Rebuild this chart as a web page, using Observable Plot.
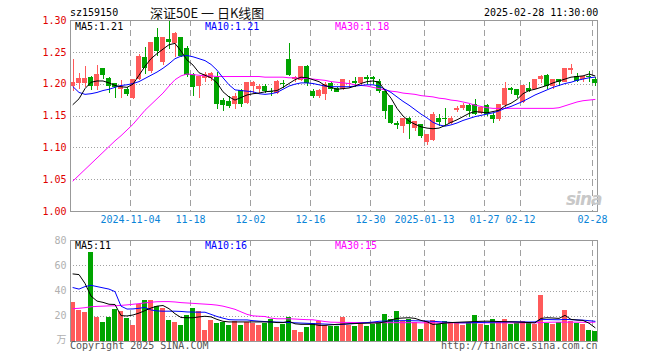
<!DOCTYPE html>
<html>
<head>
<meta charset="utf-8">
<script src="https://cdn.jsdelivr.net/npm/d3@7"></script>
<script src="https://cdn.jsdelivr.net/npm/@observablehq/plot@0.6"></script>
<style>
  html, body { margin: 0; padding: 0; background: #fff; }
  #wrap { position: relative; width: 660px; height: 360px; overflow: hidden; background: #fff; }
  #wrap svg { position: absolute; left: 0; background: transparent; }
  #wrap svg rect, #wrap svg line { shape-rendering: crispEdges; }
  .t { position: absolute; white-space: pre; font-family: "DejaVu Sans Mono", "Liberation Mono", monospace; font-size: 10px; line-height: 12px; }
</style>
</head>
<body>
<div id="wrap"></div>
<script>
// ---------- data ----------
const tickIdx = [10, 20, 30, 40, 50, 59, 69, 75, 87];
const tickLabels = ["2024-11-04", "11-18", "12-02", "12-16", "12-30", "2025-01-13", "01-27", "02-12", "02-28"];
const priceTicks = [1.00, 1.05, 1.10, 1.15, 1.20, 1.25, 1.30];
const volTicks = [20, 40, 60, 80];

const open = [1.197,1.201,1.201,1.210,1.197,1.224,1.208,1.200,1.192,1.191,
1.178,1.208,1.241,1.220,1.272,1.234,1.269,1.264,1.272,1.256,
1.214,1.196,1.209,1.209,1.210,1.174,1.172,1.168,1.190,1.170,
1.196,1.192,1.196,1.188,1.186,1.201,1.238,1.207,1.206,1.227,
1.188,1.181,1.183,1.200,1.192,1.192,1.199,1.203,1.201,1.209,
1.210,1.204,1.188,1.166,1.137,1.133,1.145,1.131,1.136,1.108,
1.112,1.145,1.146,1.138,1.159,1.162,1.165,1.167,1.154,1.165,
1.150,1.144,1.167,1.192,1.191,1.171,1.192,1.192,1.207,1.213,
1.197,1.207,1.202,1.222,1.211,1.207,1.212,1.206];
const high = [1.238,1.217,1.228,1.212,1.230,1.225,1.210,1.201,1.206,1.195,
1.207,1.246,1.257,1.266,1.288,1.272,1.298,1.281,1.274,1.259,
1.217,1.212,1.218,1.218,1.218,1.178,1.180,1.185,1.192,1.203,
1.204,1.200,1.199,1.193,1.206,1.206,1.264,1.212,1.228,1.229,
1.192,1.191,1.203,1.202,1.195,1.208,1.206,1.210,1.209,1.213,
1.212,1.207,1.190,1.166,1.141,1.145,1.147,1.142,1.136,1.120,
1.156,1.152,1.162,1.150,1.165,1.170,1.168,1.176,1.164,1.168,
1.154,1.167,1.202,1.194,1.191,1.197,1.202,1.207,1.213,1.215,
1.207,1.207,1.224,1.231,1.216,1.211,1.220,1.210];
const low = [1.188,1.192,1.194,1.190,1.190,1.208,1.186,1.178,1.178,1.181,
1.176,1.206,1.215,1.216,1.243,1.230,1.255,1.242,1.242,1.211,
1.180,1.177,1.203,1.204,1.160,1.157,1.162,1.160,1.163,1.168,
1.185,1.186,1.185,1.180,1.183,1.193,1.212,1.202,1.204,1.197,
1.177,1.178,1.175,1.188,1.187,1.190,1.193,1.195,1.198,1.200,
1.200,1.186,1.144,1.136,1.129,1.122,1.113,1.126,1.115,1.104,
1.110,1.134,1.135,1.136,1.155,1.159,1.148,1.151,1.153,1.149,
1.139,1.141,1.162,1.183,1.177,1.170,1.187,1.191,1.201,1.191,
1.191,1.197,1.202,1.215,1.202,1.202,1.203,1.197];
const close = [1.202,1.208,1.208,1.196,1.214,1.213,1.196,1.194,1.196,1.184,
1.206,1.243,1.225,1.265,1.251,1.272,1.266,1.278,1.244,1.213,
1.195,1.211,1.215,1.216,1.168,1.167,1.165,1.180,1.168,1.202,
1.202,1.196,1.189,1.187,1.204,1.199,1.214,1.209,1.227,1.201,
1.180,1.189,1.198,1.191,1.187,1.206,1.201,1.201,1.209,1.207,
1.208,1.188,1.157,1.138,1.135,1.145,1.136,1.141,1.118,1.120,
1.152,1.140,1.144,1.146,1.161,1.165,1.157,1.153,1.162,1.152,
1.144,1.167,1.192,1.190,1.182,1.197,1.188,1.207,1.211,1.197,
1.206,1.203,1.224,1.224,1.204,1.211,1.211,1.201];
const volume = [30.8,24.2,22.6,70.7,19.4,15.4,19.4,25,23.4,18.3,
13,29,32.1,32.1,27.4,25.8,17,15.4,13,20.2,
25.8,23.4,9,17,14.6,15.4,13,16.2,13,15.4,
14.6,13,14.6,17.8,11.4,13.8,19.4,9,7.4,11.4,
14.6,16.2,13,12,12.2,19.4,13,12.2,13.8,12.2,
13.8,14.6,21,17.8,23.4,16.2,17.8,15.4,9.8,16.2,
17,13.8,16.2,15.4,14.6,13,15.4,20.2,13.8,13,
17.8,16.2,17.8,13.8,14.6,16.2,15.4,13.8,36.1,14.6,
13.8,15.4,24.2,16.2,14.6,13.8,9,8.2];
const ma5 = [1.168,1.177,1.193,1.203,1.205,1.205,1.202,1.198,1.196,1.195,
1.200,1.214,1.228,1.240,1.248,1.255,1.262,1.264,1.252,1.238,
1.230,1.218,1.214,1.210,1.202,1.188,1.180,1.175,1.179,1.183,
1.185,1.186,1.188,1.189,1.190,1.195,1.201,1.207,1.211,1.210,
1.207,1.204,1.198,1.195,1.192,1.193,1.194,1.197,1.201,1.204,
1.205,1.203,1.190,1.178,1.162,1.150,1.142,1.137,1.133,1.131,
1.130,1.131,1.135,1.140,1.144,1.149,1.154,1.157,1.156,1.155,
1.157,1.159,1.166,1.170,1.176,1.185,1.190,1.192,1.195,1.198,
1.202,1.205,1.208,1.211,1.212,1.213,1.216,1.213];
const ma10 = [1.196,1.187,1.184,1.185,1.187,1.190,1.192,1.195,1.198,1.199,
1.201,1.204,1.209,1.214,1.219,1.225,1.232,1.240,1.244,1.245,
1.243,1.240,1.237,1.231,1.222,1.210,1.199,1.191,1.190,1.189,
1.188,1.185,1.184,1.185,1.187,1.192,1.197,1.200,1.202,1.202,
1.201,1.199,1.197,1.196,1.196,1.196,1.196,1.197,1.198,1.199,
1.199,1.197,1.192,1.187,1.180,1.173,1.167,1.160,1.153,1.147,
1.140,1.136,1.134,1.136,1.139,1.143,1.146,1.149,1.151,1.153,
1.155,1.158,1.162,1.165,1.169,1.173,1.178,1.183,1.187,1.191,
1.195,1.198,1.201,1.203,1.206,1.208,1.210,1.211];
const ma30 = [1.048,1.057,1.066,1.075,1.084,1.093,1.102,1.111,1.119,1.128,
1.137,1.148,1.159,1.168,1.177,1.186,1.197,1.207,1.213,1.216,
1.215,1.214,1.213,1.213,1.212,1.212,1.212,1.212,1.212,1.212,
1.212,1.212,1.211,1.211,1.211,1.211,1.210,1.210,1.209,1.209,
1.208,1.207,1.206,1.204,1.203,1.202,1.201,1.199,1.198,1.197,
1.195,1.193,1.191,1.189,1.188,1.186,1.185,1.184,1.182,1.181,
1.180,1.178,1.177,1.175,1.174,1.172,1.170,1.167,1.165,1.163,
1.162,1.162,1.162,1.162,1.162,1.162,1.162,1.162,1.162,1.162,
1.162,1.163,1.166,1.169,1.172,1.174,1.175,1.176];
const vma5 = [53.5,53,46,36,32,31,29.5,29.3,20.5,20.2,
21,22.5,24.5,26.5,28,28.5,26,22,19,18.8,
18.8,19.5,20,19.5,17.5,16,15.5,15.5,15.5,15.5,
15.5,15.5,15.5,15.5,15,15,16,14,13.6,13.6,
13.6,12.8,12.8,13.2,13.6,13.8,14,14.2,14.4,14.5,
14.6,14.8,15.5,17,18.3,18.6,18.8,18.3,16.7,15.6,
13.5,14,14.6,15,15.2,15.4,15.6,15.8,16,16.1,
16,15.8,15.7,15.6,15.4,15.2,15,14.8,18.3,18.8,
18.6,18.3,20.7,17.5,17,16.7,14.5,11];
const vma10 = [42.7,41.5,43.5,44.5,43.5,42.5,41.5,39.5,28,25.7,
25.8,26.3,27,25,24.2,24,24,24,23.8,23.4,
23.3,23.2,23.2,21.5,19.8,18.5,17.3,17.1,17.1,17.1,
16.5,16.1,15.8,15.5,15.4,15.2,15,14.8,14.6,14.4,
14.2,14,13.8,13.6,13.3,13.6,14,14.3,14.6,15,
15.4,16,16.2,16.3,16.4,16.5,16.5,16.4,16.3,16.2,
16,15.7,15.4,15.1,14.9,14.8,14.9,15,15.1,15.2,
15.3,15.4,15.5,15.6,15.6,15.5,15.4,15.5,17.3,17.4,
17.3,17.2,17.5,17.3,17.1,16.9,16.5,16];
const vma30 = [26,26.3,26.8,27.5,27.8,28,28.2,28.3,28.6,29,
29.5,30,30.6,31.1,31.5,31.6,31.6,31.3,30.8,30.5,
30.2,29.9,29.6,29.3,28.8,28,26.8,25.5,23.5,21.5,
20.3,20,19.8,18.5,18,18,18,17.8,17.5,17.3,
17.2,16.5,15.8,15.3,15.2,15.1,15.1,15.0,15.0,15.0,
15.0,14.9,14.9,14.9,14.9,14.9,14.9,14.9,14.8,14.8,
14.8,14.8,14.8,14.8,14.8,14.8,14.8,14.8,14.8,14.8,
14.8,14.8,14.8,14.8,14.8,14.8,14.8,14.8,15.0,15.2,
15.3,15.3,15.3,15.3,15.3,15.2,15.2,15.3];

// ---------- build ----------
const RED = "#ff5a5a", GREEN = "#00a400", MAG = "#ff00ff", BLUE = "#0000ff";
const GRID = "#a0a0a0", FRAME = "#999999";
const idx = d3.range(close.length);
const candles = idx.map(i => ({i, o: open[i], h: high[i], l: low[i], c: close[i], v: volume[i],
  col: close[i] >= open[i] ? RED : GREEN}));
const W = 660, ML = 70, MR = 63;
const xDom = [0, (W - ML - MR) / 6];
const mid = i => i + 2.5 / 6;

const main = Plot.plot({
  width: W, height: 230,
  marginLeft: ML, marginRight: MR, marginTop: 20, marginBottom: 19,
  x: {type: "linear", domain: xDom, axis: null},
  y: {domain: [1.0, 1.3], axis: null},
  color: {type: "identity"},
  marks: [
    Plot.ruleY(priceTicks.slice(1, -1), {stroke: GRID, strokeDasharray: "1,2"}),
    Plot.ruleX(tickIdx, {x: d => d, stroke: GRID, strokeDasharray: "6,4"}),
    Plot.ruleX(candles, {x: d => mid(d.i), y1: "l", y2: "h", stroke: "col"}),
    Plot.rect(candles, {x1: "i", x2: d => d.i + 5 / 6,
      y1: d => Math.min(d.o, d.c), y2: d => Math.max(d.o, d.c) + 0.0008, fill: "col"}),
    Plot.line(idx, {x: mid, y: i => ma30[i], stroke: MAG, strokeWidth: 1}),
    Plot.line(idx, {x: mid, y: i => ma10[i], stroke: BLUE, strokeWidth: 1}),
    Plot.line(idx, {x: mid, y: i => ma5[i], stroke: "#000", strokeWidth: 1}),
    Plot.frame({stroke: FRAME}),
    Plot.text(priceTicks, {y: d => d, text: d => d.toFixed(2), frameAnchor: "left", textAnchor: "end",
      dx: -4, fill: "#e00000", fontSize: 10, fontFamily: "DejaVu Sans Mono"}),
    Plot.text(tickIdx, {x: d => d, text: (d, k) => tickLabels[k], frameAnchor: "bottom", dy: 11,
      fill: "#0a84d8", fontSize: 10, fontFamily: "DejaVu Sans Mono"})
  ]
});
main.style.top = "0px";

const vol = Plot.plot({
  width: W, height: 130,
  marginLeft: ML, marginRight: MR, marginTop: 10, marginBottom: 19,
  x: {type: "linear", domain: xDom, axis: null},
  y: {domain: [0, 80], axis: null},
  color: {type: "identity"},
  marks: [
    Plot.ruleY(volTicks.slice(0, -1), {stroke: GRID, strokeDasharray: "1,2"}),
    Plot.ruleX(tickIdx, {x: d => d, stroke: GRID, strokeDasharray: "6,4"}),
    Plot.rect(candles, {x1: "i", x2: d => d.i + 5 / 6, y1: 0, y2: "v", fill: "col"}),
    Plot.line(idx, {x: mid, y: i => vma30[i], stroke: MAG, strokeWidth: 1}),
    Plot.line(idx, {x: mid, y: i => vma10[i], stroke: BLUE, strokeWidth: 1}),
    Plot.line(idx, {x: mid, y: i => vma5[i], stroke: "#000", strokeWidth: 1}),
    Plot.frame({stroke: FRAME}),
    Plot.text(volTicks, {y: d => d, text: d => String(d), frameAnchor: "left", textAnchor: "end",
      dx: -4, fill: "#b0b0b0", fontSize: 10, fontFamily: "DejaVu Sans Mono"}),
    Plot.text(["万"], {y: 0, text: d => d, frameAnchor: "left", textAnchor: "end",
      dx: -4, dy: -2, fill: "#b0b0b0", fontSize: 10, fontFamily: "Noto Sans CJK SC"})
  ]
});
vol.style.top = "230px";

const wrap = document.getElementById("wrap");
wrap.appendChild(main);
wrap.appendChild(vol);

function label(text, left, top, color, extra) {
  const d = document.createElement("div");
  d.className = "t";
  d.textContent = text;
  d.style.left = left + "px";
  d.style.top = top + "px";
  d.style.color = color;
  if (extra) Object.assign(d.style, extra);
  wrap.appendChild(d);
  return d;
}
const last = close.length - 1;
label("sz159150", 70, 7, "#000");
label("深证50E 一 日K线图", 150, 5, "#111", {fontFamily: "'Noto Sans CJK SC', sans-serif", fontSize: "13px", lineHeight: "16px"});
label("2025-02-28 11:30:00", 484, 7, "#000");
label("MA5:" + ma5[last].toFixed(2), 75, 21, "#000");
label("MA10:" + ma10[last].toFixed(2), 205, 21, BLUE);
label("MA30:" + ma30[last].toFixed(2), 335, 21, MAG);
label("MA5:" + Math.round(vma5[last]), 75, 240, "#000");
label("MA10:" + Math.round(vma10[last]), 205, 240, BLUE);
label("MA30:" + Math.round(vma30[last]), 335, 240, MAG);
label("Copyright 2025 SINA.COM", 70, 340, "#555");
label("http://finance.sina.com.cn", 441, 340, "#555");
label("sina", 566, 189, "#c8c8c8", {fontFamily: "'DejaVu Sans', sans-serif", fontSize: "17px", fontWeight: "bold", fontStyle: "italic", lineHeight: "20px", letterSpacing: "-1px"});
</script>
</body>
</html>
